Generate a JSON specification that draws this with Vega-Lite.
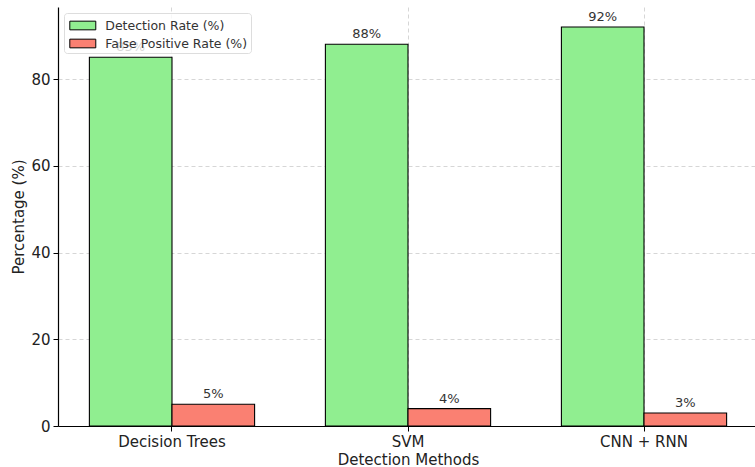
{
  "$schema": "https://vega.github.io/schema/vega-lite/v6.json",
  "width": 700,
  "height": 419,
  "autosize": "none",
  "padding": {"left": 58, "top": 7, "right": 0, "bottom": 41},
  "background": "white",
  "data": {
    "values": [
      {"method": "Decision Trees", "metric": "Detection Rate (%)", "value": 85},
      {"method": "Decision Trees", "metric": "False Positive Rate (%)", "value": 5},
      {"method": "SVM", "metric": "Detection Rate (%)", "value": 88},
      {"method": "SVM", "metric": "False Positive Rate (%)", "value": 4},
      {"method": "CNN + RNN", "metric": "Detection Rate (%)", "value": 92},
      {"method": "CNN + RNN", "metric": "False Positive Rate (%)", "value": 3}
    ]
  },
  "transform": [{"calculate": "datum.value + '%'", "as": "label"}],
  "encoding": {
    "x": {
      "field": "method",
      "type": "nominal",
      "sort": ["Decision Trees", "SVM", "CNN + RNN"],
      "scale": {"paddingInner": 0.3, "paddingOuter": 0.133},
      "axis": {
        "title": "Detection Methods",
        "labelAngle": 0,
        "bandPosition": 0.5,
        "tickExtra": false,
        "grid": true,
        "gridDash": [4, 3],
        "gridColor": "#cccccc",
        "gridWidth": 0.8,
        "domainColor": "black",
        "domainWidth": 1.2,
        "tickColor": "black",
        "tickSize": 5,
        "labelFontSize": 15,
        "labelColor": "#222",
        "labelPadding": 3,
        "titleFontSize": 15,
        "titleFontWeight": "normal",
        "titleColor": "#222",
        "titlePadding": 3,
        "labelFont": "DejaVu Sans",
        "titleFont": "DejaVu Sans"
      }
    },
    "xOffset": {
      "field": "metric",
      "type": "nominal",
      "sort": ["Detection Rate (%)", "False Positive Rate (%)"],
      "scale": {"paddingInner": 0, "paddingOuter": 0}
    },
    "y": {
      "field": "value",
      "type": "quantitative",
      "scale": {"domain": [0, 96.6], "nice": false},
      "axis": {
        "title": "Percentage (%)",
        "values": [0, 20, 40, 60, 80],
        "grid": true,
        "gridDash": [4, 3],
        "gridColor": "#cccccc",
        "gridWidth": 0.8,
        "domainColor": "black",
        "domainWidth": 1.2,
        "tickColor": "black",
        "tickSize": 5,
        "labelFontSize": 15,
        "labelColor": "#222",
        "labelPadding": 3,
        "titleFontSize": 15,
        "titleFontWeight": "normal",
        "titleColor": "#222",
        "titlePadding": 4,
        "labelFont": "DejaVu Sans",
        "titleFont": "DejaVu Sans"
      }
    }
  },
  "layer": [
    {
      "mark": {"type": "bar", "stroke": "black", "strokeWidth": 1.1},
      "encoding": {
        "color": {
          "field": "metric",
          "type": "nominal",
          "sort": ["Detection Rate (%)", "False Positive Rate (%)"],
          "scale": {"domain": ["Detection Rate (%)", "False Positive Rate (%)"], "range": ["#90EE90", "#FA8072"]},
          "legend": {
            "title": null,
            "orient": "none",
            "legendX": 6,
            "legendY": 6,
            "symbolType": "M-1.5,-0.5H1.5V0.5H-1.5Z",
            "symbolSize": 300,
            "symbolOffset": 6.3,
            "symbolStrokeColor": "black",
            "symbolStrokeWidth": 1,
            "symbolOpacity": 1,
            "labelFontSize": 12.5,
            "labelFont": "DejaVu Sans",
            "labelColor": "#333",
            "rowPadding": 2,
            "padding": 3,
            "fillColor": "rgba(255,255,255,0.8)",
            "strokeColor": "#dddddd",
            "cornerRadius": 3,
            "labelOffset": 13
          }
        }
      }
    },
    {
      "mark": {"type": "text", "dy": -3, "fontSize": 13, "font": "DejaVu Sans", "color": "#333", "baseline": "bottom"},
      "encoding": {"text": {"field": "label"}}
    }
  ],
  "config": {"view": {"stroke": null}}
}
